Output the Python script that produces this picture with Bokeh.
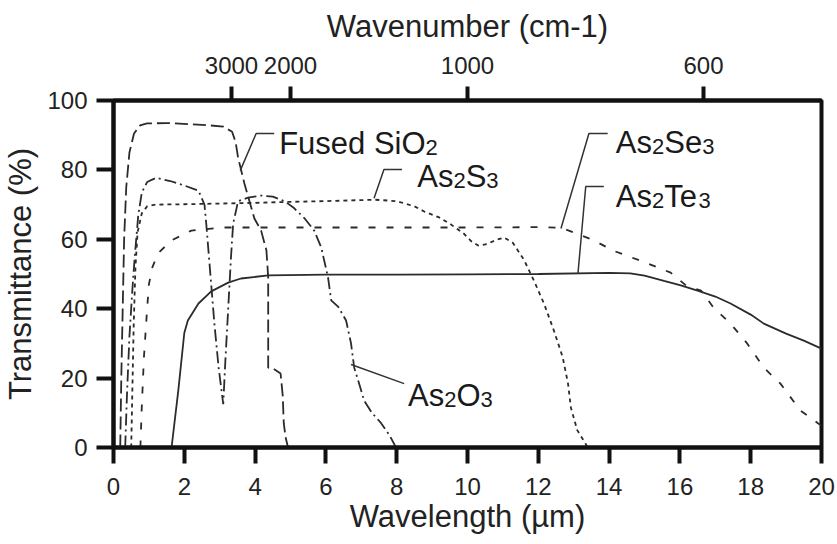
from bokeh.plotting import figure
from bokeh.models import Range1d, LinearAxis, FixedTicker, Label
from bokeh.embed import file_html
from bokeh.resources import INLINE

# ---------------- data ----------------
sio2_x = [0.19, 0.22, 0.26, 0.30, 0.36, 0.45, 0.58, 0.75, 0.95, 1.5, 2.5, 3.1, 3.35, 3.45, 3.52, 3.7, 3.98, 4.17, 4.32, 4.37, 4.37, 4.5, 4.72, 4.78, 4.81, 4.86, 4.93]
sio2_y = [0, 20, 40, 60, 75, 85, 90.5, 92.8, 93.4, 93.5, 93.0, 92.5, 91.0, 88.0, 83.5, 76.0, 66.0, 62.5, 56.8, 49.0, 23.0, 22.8, 21.3, 15.0, 7.0, 3.0, 0]

as2o3_x = [0.33, 0.38, 0.45, 0.53, 0.60, 0.70, 0.80, 0.95, 1.2, 1.6, 2.0, 2.4, 2.57, 2.62, 2.72, 2.85, 2.97, 3.1, 3.16, 3.24, 3.32, 3.38, 3.52, 3.8, 4.17, 4.5, 4.83, 5.1, 5.4, 5.67, 5.87, 6.06, 6.15, 6.35, 6.57, 6.71, 6.8, 6.95, 7.08, 7.3, 7.56, 7.8, 7.98]
as2o3_y = [0, 15, 32, 45, 55, 67, 73.5, 76.5, 77.7, 76.8, 75.5, 74.0, 70.0, 64.5, 52.0, 35.7, 23.0, 12.5, 25.0, 40.0, 55.0, 64.5, 71.0, 72.0, 72.6, 72.3, 71.0, 69.0, 66.0, 62.5, 57.6, 49.0, 42.4, 40.5, 36.6, 30.0, 23.0, 18.0, 13.5, 10.0, 7.0, 3.5, 0]

as2s3_x = [0.50, 0.53, 0.57, 0.62, 0.68, 0.80, 0.95, 1.2, 2.0, 3.0, 4.0, 5.0, 6.0, 7.0, 7.4, 8.0, 8.5, 8.78, 9.2, 9.5, 9.9, 10.1, 10.3, 10.55, 10.8, 11.03, 11.28, 11.6, 11.88, 12.16, 12.44, 12.69, 12.84, 12.92, 13.1, 13.25, 13.4]
as2s3_y = [0, 15, 35, 52, 62, 67.5, 69.5, 70.0, 70.1, 70.3, 70.5, 70.8, 71.0, 71.3, 71.4, 71.0, 69.5, 68.0, 66.3, 64.5, 61.6, 59.5, 58.2, 58.6, 59.8, 60.5, 59.0, 54.0, 48.0, 41.5, 33.7, 26.0, 18.4, 11.5, 5.0, 2.5, 0]

as2se3_x = [0.76, 0.80, 0.86, 0.95, 1.0, 1.1, 1.26, 1.64, 2.2, 3.1, 5.0, 8.0, 10.0, 12.0, 12.64, 13.0, 13.57, 14.1, 15.1, 15.74, 16.17, 16.6, 16.95, 17.43, 17.9, 18.37, 18.84, 19.4, 19.9, 20.0]
as2se3_y = [0, 12, 26, 40, 47, 52, 56, 59.7, 62.5, 63.4, 63.4, 63.4, 63.4, 63.5, 63.3, 62.0, 59.7, 56.8, 53.0, 50.4, 46.7, 45.2, 40.3, 35.7, 30.0, 23.0, 18.4, 10.7, 7.0, 6.3]

as2te3_x = [1.64, 1.83, 2.0, 2.1, 2.4, 2.76, 3.24, 3.6, 4.37, 6.0, 8.0, 10.0, 12.0, 14.0, 14.6, 15.0, 15.55, 16.0, 16.5, 17.0, 17.43, 18.0, 18.37, 19.0, 19.5, 20.0]
as2te3_y = [0, 16.4, 33.0, 36.6, 41.5, 45.0, 47.5, 48.7, 49.6, 49.8, 49.8, 49.9, 50.0, 50.3, 50.2, 49.5, 48.0, 46.8, 45.2, 43.5, 41.5, 38.3, 35.7, 32.8, 30.8, 28.5]

x_ticks = [0, 2, 4, 6, 8, 10, 12, 14, 16, 18, 20]
y_ticks = [0, 20, 40, 60, 80, 100]
wavenumber_ticks = [3000, 2000, 1000, 600]

# curve labels: (piece, is_subscript)
label_parts = [
    [("Fused SiO", False), ("2", True)],
    [("As", False), ("2", True), ("S", False), ("3", True)],
    [("As", False), ("2", True), ("Se", False), ("3", True)],
    [("As", False), ("2", True), ("Te", False), ("3", True)],
    [("As", False), ("2", True), ("O", False), ("3", True)],
]
label_x = [4.68, 8.58, 14.19, 14.19, 8.32]
label_y = [87.6, 78.1, 87.9, 72.4, 15.0]

leader_x = [[4.54, 4.03, 3.58], [8.15, 7.64, 7.36], [13.96, 13.43, 12.64], [13.85, 13.34, 13.12], [8.21, 6.71]]
leader_y = [[90.5, 90.5, 79.8], [80.1, 80.1, 71.8], [90.5, 90.5, 63.1], [75.2, 75.2, 50.1], [18.4, 23.9]]

# ---------------- styling ----------------
FONT = "Liberation Sans"
INK = "#111111"
CURVE = "#2b2b2b"
MAIN = 31
SUB = 22

p = figure(width=837, height=544, output_backend="svg", toolbar_location=None,
           x_range=Range1d(0, 20), y_range=Range1d(0, 100),
           min_border_left=112, min_border_right=16, min_border_top=100, min_border_bottom=97,
           x_axis_label="Wavelength (µm)", y_axis_label="Transmittance (%)")
p.grid.visible = False
p.outline_line_color = INK
p.outline_line_width = 4
p.background_fill_color = "white"
p.border_fill_color = "white"

bottom = p.below[0]
left = p.left[0]
bottom.ticker = FixedTicker(ticks=x_ticks)
left.ticker = FixedTicker(ticks=y_ticks)

wl_ticks = [10000.0 / w for w in wavenumber_ticks]
top = LinearAxis(ticker=FixedTicker(ticks=wl_ticks),
                 major_label_overrides={t: str(w) for t, w in zip(wl_ticks, wavenumber_ticks)},
                 axis_label="Wavenumber (cm-1)")
p.add_layout(top, "above")

for ax, tick_out, lab_stand, title_stand in [(bottom, 16, 14, 1), (left, 17, 9, 6), (top, 14, 13, 10)]:
    ax.axis_line_color = INK
    ax.axis_line_width = 4
    ax.major_tick_line_color = INK
    ax.major_tick_line_width = 4
    ax.major_tick_out = tick_out
    ax.major_tick_in = 0
    ax.minor_tick_line_color = None
    ax.major_label_text_font = FONT
    ax.major_label_text_font_size = "24px"
    ax.major_label_text_color = "#222222"
    ax.major_label_standoff = lab_stand
    ax.axis_label_text_font = FONT
    ax.axis_label_text_font_size = "31px"
    ax.axis_label_text_font_style = "normal"
    ax.axis_label_text_color = "#222222"
    ax.axis_label_standoff = title_stand

# ---------------- curves ----------------
p.line(sio2_x, sio2_y, line_color=CURVE, line_width=1.8, line_dash="13 5")
p.line(as2o3_x, as2o3_y, line_color=CURVE, line_width=1.8, line_dash="12 4 2 4")
p.line(as2s3_x, as2s3_y, line_color=CURVE, line_width=1.8, line_dash="4 4")
p.line(as2se3_x, as2se3_y, line_color=CURVE, line_width=1.8, line_dash="7 11")
p.line(as2te3_x, as2te3_y, line_color=CURVE, line_width=1.8)

for lx, ly in zip(leader_x, leader_y):
    p.line(lx, ly, line_color="#333333", line_width=1.5)

ADV = {"A": .667, "s": .5, "S": .667, "e": .556, "T": .55, "O": .778, "F": .611,
       "u": .556, "d": .556, " ": .278, "i": .222, "2": .556, "3": .556}

for parts, x, y in zip(label_parts, label_x, label_y):
    off = 0.0
    for txt, sub in parts:
        size = SUB if sub else MAIN
        p.add_layout(Label(x=x, y=y, x_offset=off, y_offset=(-4 if sub else 0), text=txt,
                           text_font=FONT, text_font_size=f"{size}px", text_color="#1a1a1a",
                           text_baseline="alphabetic", text_align="left"))
        off += sum(ADV[c] for c in txt) * size

open("out.html", "w").write(file_html(p, INLINE))
